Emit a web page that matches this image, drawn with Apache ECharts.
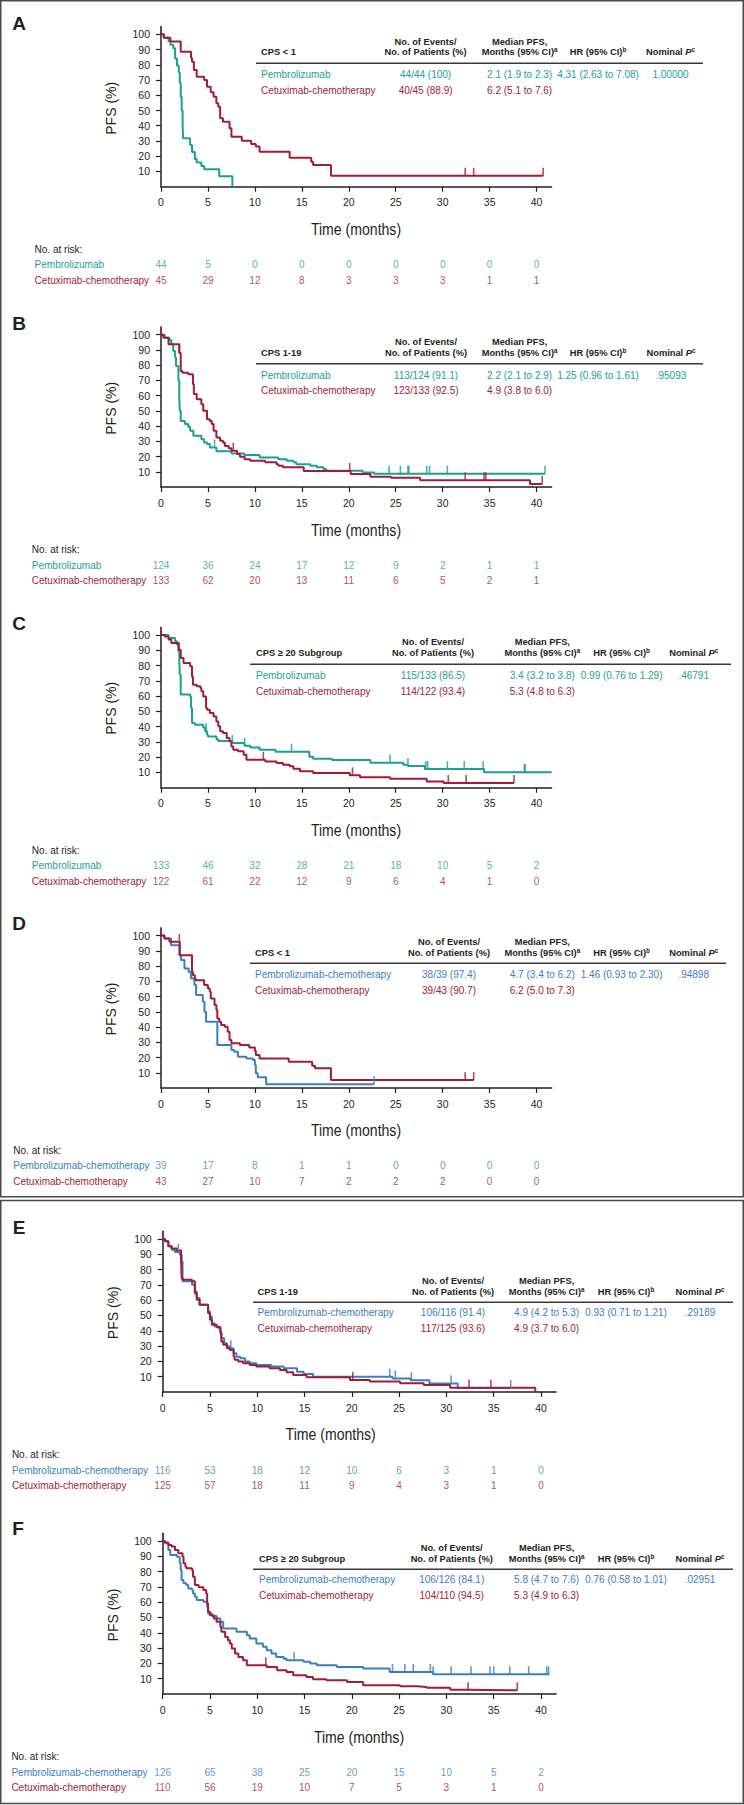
<!DOCTYPE html>
<html><head><meta charset="utf-8">
<script src="https://cdn.jsdelivr.net/npm/echarts@6/dist/echarts.min.js"></script>
<style>html,body{margin:0;padding:0;background:#fff}#c{width:744px;height:1805px}</style>
</head><body><div id="c"></div>
<script>
// ---------------- DATA ----------------
const xTicks = [0, 5, 10, 15, 20, 25, 30, 35, 40];
const yTicks = [10, 20, 30, 40, 50, 60, 70, 80, 90, 100];

// Panel A: CPS < 1, pembrolizumab vs cetuximab-chemotherapy
const A_pembro = [[0,100],[0.3,97.7],[0.8,95.5],[1.0,93.2],[1.3,90.9],[1.5,84.1],[1.7,79.5],[1.9,75],[2.0,68.2],[2.1,59.1],[2.2,50],[2.3,40.9],[2.35,31.8],[3.1,27.3],[3.3,22.7],[3.6,18.2],[3.8,15.9],[4.3,13.6],[4.6,11.4],[6.2,6.8],[7.6,0]];
const A_cetux = [[0,100],[0.3,97.8],[1.0,95.3],[2.1,88.6],[3.2,84.4],[3.3,82],[3.5,76.6],[3.8,72.2],[4.6,70],[4.9,65.6],[5.3,62],[5.6,59],[5.9,54.7],[6.1,52.5],[6.3,44.9],[6.6,42.7],[7.3,38.3],[7.5,32.8],[8.6,30.2],[9.6,28],[10.1,26.3],[10.5,23],[13.7,19],[16.0,16.4],[16.2,14.2],[18.1,7.2],[40.7,7.2]];
const A_pembroCensor = [];
const A_cetuxCensor = [0, 32.4, 33.3, 40.7];
const A_riskPembro = [44, 5, 0, 0, 0, 0, 0, 0, 0];
const A_riskCetux = [45, 29, 12, 8, 3, 3, 3, 1, 1];

// Panel B: CPS 1-19
const B_pembro = [[0,100],[0.4,98],[0.9,96.3],[1.1,93.7],[1.3,89.3],[1.5,85],[1.6,79.5],[1.85,69.7],[1.95,58.7],[2.0,50],[2.1,43.4],[2.55,41.3],[2.9,39.5],[3.1,36.9],[3.45,33.6],[4.3,31.4],[4.6,29.3],[4.9,28.2],[5.2,26],[5.9,23.4],[7.5,22],[8.9,21],[10.5,19.4],[12.5,18.3],[13.4,17.2],[14.1,16.2],[14.4,15],[15.9,14],[16.6,12.9],[17.3,11.8],[17.6,10.7],[21.5,9.6],[22.7,8.7],[40.9,8.7]];
const B_cetux = [[0,100],[0.25,98],[0.8,93.7],[1.95,88],[2.1,76],[2.3,75],[2.9,74],[3.4,67.5],[3.5,61],[3.8,57.6],[4.3,54.4],[4.5,50],[4.9,44.5],[5.2,43.4],[5.4,41.3],[5.6,36.9],[5.9,32.5],[6.3,30.3],[6.6,29.3],[6.8,27],[7.2,25.5],[7.5,23.8],[8.1,21.6],[8.4,19.9],[8.9,18.3],[9.5,17.2],[11.1,16.2],[12.3,15],[12.5,14],[13.0,12.9],[15.2,10.5],[20.2,8.5],[22.3,6.8],[24.5,6],[27.6,4.4],[39.3,2.0],[40.6,2.0]];
const B_pembroCensor = [5.7, 24.3, 25.5, 26.3, 26.4, 28.3, 28.6, 30.5, 40.9];
const B_cetuxCensor = [0, 1.95, 7.7, 20.1, 32.4, 34.4, 34.6, 40.6];
const B_riskPembro = [124, 36, 24, 17, 12, 9, 2, 1, 1];
const B_riskCetux = [133, 62, 20, 13, 11, 6, 5, 2, 1];

// Panel C: CPS >= 20
const C_pembro = [[0,100],[0.8,98],[1.5,96],[1.7,93.7],[1.85,89.3],[1.95,82.8],[2.0,74],[2.1,61],[3.1,59.8],[3.2,52.2],[3.3,42.4],[3.6,41.3],[4.5,39.5],[4.7,36.9],[4.9,34.7],[5.0,33.6],[5.9,31.8],[6.1,30.6],[7.6,29.3],[8.9,27.5],[9.5,26.4],[10.5,24.9],[12.2,23.6],[15.8,20.3],[16.2,19],[18.2,18.1],[22.3,16.4],[25.8,15],[26.3,14.2],[28.1,12.2],[34.4,10.2],[41.6,10.2]];
const C_cetux = [[0,100],[0.4,99],[0.8,97],[1.1,94.8],[1.9,90.4],[2.1,85],[2.4,81.7],[3.1,79.5],[3.3,72.9],[3.4,67.5],[3.8,66.4],[4.2,65.3],[4.3,63.1],[4.5,59.8],[4.8,52.2],[4.9,51.1],[5.2,48.9],[5.6,46.7],[5.9,43.4],[6.1,40.2],[6.3,36.9],[6.6,35.8],[7.0,32.5],[7.3,30.3],[7.5,27],[7.7,24.9],[8.2,23.8],[8.8,21.6],[9.1,18.3],[11.1,17.2],[12.3,16.2],[13.0,15.1],[13.7,14],[14.1,12.4],[14.8,10.7],[16.2,9.6],[20.1,8.1],[21.2,6.8],[24.4,5.9],[28.3,4.1],[30.1,3.1],[37.6,3.1]];
const C_pembroCensor = [4.8, 7.6, 8.9, 13.9, 24.4, 26.3, 28.2, 28.4, 30.5, 32.3, 34.3, 38.7, 38.8];
const C_cetuxCensor = [0, 10.9, 20.4, 30.6, 32.5, 37.6];
const C_riskPembro = [133, 46, 32, 28, 21, 18, 10, 5, 2];
const C_riskCetux = [122, 61, 22, 12, 9, 6, 4, 1, 0];

// Panel D: CPS < 1, pembrolizumab-chemotherapy vs cetuximab-chemotherapy
const D_pembro = [[0,100],[0.36,98],[1.07,93.7],[1.96,87],[2.14,84],[2.5,78.4],[2.95,76],[3.2,71.8],[3.56,67.5],[3.74,61],[4.45,56.6],[4.63,50],[4.8,43.4],[6.0,28.2],[7.5,25],[7.8,23.8],[8.2,20.5],[9.1,19.4],[9.8,18.3],[10.0,15.1],[10.1,9.6],[10.3,7.0],[11.2,2.4],[22.7,2.4]];
const D_cetux = [[0,100],[0.36,98],[0.9,95.9],[2.0,87.1],[3.3,76.2],[3.4,74],[3.6,71.8],[3.7,70.7],[4.6,67.5],[5.0,65.3],[5.2,63.1],[5.3,58.7],[5.7,54.4],[5.9,51.1],[6.0,45.6],[6.2,43.4],[6.4,41.3],[6.8,40.2],[7.1,36.9],[7.3,31.4],[7.5,29.3],[8.4,28.2],[9.4,26.6],[10.0,24.2],[10.1,21.6],[10.5,19.4],[13.6,17.2],[16.1,14.6],[16.4,12.9],[18.1,5.2],[33.3,5.2]];
const D_pembroCensor = [22.7];
const D_cetuxCensor = [0, 1.95, 32.4, 33.3];
const D_riskPembro = [39, 17, 8, 1, 1, 0, 0, 0, 0];
const D_riskCetux = [43, 27, 10, 7, 2, 2, 2, 0, 0];

// Panel E: CPS 1-19
const E_pembro = [[0,100],[0.25,98.5],[0.6,95.2],[0.95,93],[1.3,91.5],[1.8,89.7],[2.0,85.4],[2.1,72.3],[3.1,70.1],[3.4,65.7],[3.6,61.4],[3.9,57],[4.8,52.6],[5.0,49.3],[5.2,45],[5.5,42.8],[5.9,41.7],[6.1,39.5],[6.2,35.2],[6.5,31.9],[6.8,29.7],[7.1,28.6],[7.5,25.3],[7.8,23.1],[8.2,22.1],[8.7,19.9],[9.2,18.8],[9.9,17.7],[11.5,16.6],[12.8,15.5],[14.2,13.3],[14.9,11.8],[15.9,10],[24.3,8.9],[26.2,7.6],[28.2,5.5],[31.2,2.6],[36.8,2.6]];
const E_cetux = [[0,100],[0.25,98.5],[0.6,95.2],[0.95,93.7],[1.5,92.4],[1.95,85.4],[2.0,74.5],[2.1,73.4],[3.1,72.3],[3.4,64.6],[3.6,60.3],[3.9,57],[4.8,51.5],[5.0,47.2],[5.2,43.9],[5.7,42.4],[6.1,38.4],[6.2,33],[6.4,30.8],[6.8,28.6],[7.1,27.5],[7.5,23.1],[7.6,21],[8.0,19.9],[8.5,18.8],[9.2,17.7],[9.9,16.6],[11.3,15.5],[12.4,14.4],[13.1,12.9],[13.8,11.1],[15.2,9.6],[19.8,7.9],[21.9,6.8],[25.1,5.7],[27.6,4.6],[30.4,2.8],[39.4,0]];
const E_pembroCensor = [1.65, 7.2, 24.0, 24.6, 26.3, 30.5, 36.8];
const E_cetuxCensor = [0, 1.95, 20.1, 32.4, 34.7];
const E_riskPembro = [116, 53, 18, 12, 10, 6, 3, 1, 0];
const E_riskCetux = [125, 57, 18, 11, 9, 4, 3, 1, 0];

// Panel F: CPS >= 20
const F_pembro = [[0,100],[0.25,98.5],[0.6,94.1],[0.8,90.8],[1.5,89.7],[1.8,85.4],[1.9,81],[2.0,74.5],[2.2,72.3],[2.5,71.2],[2.7,69],[3.1,67.9],[3.2,65.7],[3.4,63.5],[3.6,61.4],[4.3,60.3],[4.7,57],[4.8,52.6],[5.2,50.9],[5.7,49.3],[6.1,47.2],[6.4,42.8],[7.8,40.6],[8.9,38.4],[9.2,36.2],[9.9,33],[10.6,30.8],[11.0,28.6],[11.5,26.4],[12.0,24.2],[12.8,23.1],[13.1,22.1],[14.9,21],[15.6,19.9],[16.3,18.8],[18.4,17.7],[21.2,16.6],[24.0,14.4],[28.6,12.9],[40.9,12.9]];
const F_cetux = [[0,100],[0.25,99],[0.6,97.4],[0.95,96.3],[1.3,94.1],[1.65,91.9],[2.1,89.7],[2.2,85.4],[2.4,83.2],[2.5,82.1],[3.1,81],[3.2,76.6],[3.4,71.2],[3.8,69.7],[4.3,67.9],[4.6,65.7],[4.7,59.2],[4.8,53.7],[5.0,51.5],[5.4,49.3],[5.7,47.2],[6.1,43.9],[6.2,40.6],[6.6,37.3],[6.9,35.2],[7.1,33],[7.3,29.7],[7.65,26.4],[8.0,24.2],[8.5,22.1],[8.9,18.8],[11.0,17.7],[12.1,15.5],[13.1,14.4],[13.8,12.2],[15.2,11.1],[15.9,9.6],[17.3,9],[19.5,7.9],[21.2,5.7],[25.1,5],[26.9,4.6],[27.9,4.1],[30.4,2.8],[32.1,2.4],[37.5,2.4]];
const F_pembroCensor = [13.9, 24.3, 25.6, 26.5, 28.3, 28.6, 30.5, 32.6, 34.6, 35.0, 36.7, 38.7, 40.6, 40.8];
const F_cetuxCensor = [0, 10.9, 32.3, 37.5];
const F_riskPembro = [126, 65, 38, 25, 20, 15, 10, 5, 2];
const F_riskCetux = [110, 56, 19, 10, 7, 5, 3, 1, 0];

// Table texts
const hdrEvents = ['No. of Events/', 'No. of Patients (%)'];
const hdrMedian = ['Median PFS,', 'Months (95% CI)'];
const hdrHR = 'HR (95% CI)';
const hdrP = 'Nominal ';
const A_title = 'CPS < 1';
const A_rows = [['Pembrolizumab', '44/44 (100)', '2.1 (1.9 to 2.3)', '4.31 (2.63 to 7.08)', '1.00000'], ['Cetuximab-chemotherapy', '40/45 (88.9)', '6.2 (5.1 to 7.6)', '', '']];
const B_title = 'CPS 1-19';
const B_rows = [['Pembrolizumab', '113/124 (91.1)', '2.2 (2.1 to 2.9)', '1.25 (0.96 to 1.61)', '.95093'], ['Cetuximab-chemotherapy', '123/133 (92.5)', '4.9 (3.8 to 6.0)', '', '']];
const C_title = 'CPS \u2265 20 Subgroup';
const C_rows = [['Pembrolizumab', '115/133 (86.5)', '3.4 (3.2 to 3.8)', '0.99 (0.76 to 1.29)', '.46791'], ['Cetuximab-chemotherapy', '114/122 (93.4)', '5.3 (4.8 to 6.3)', '', '']];
const D_title = 'CPS < 1';
const D_rows = [['Pembrolizumab-chemotherapy', '38/39 (97.4)', '4.7 (3.4 to 6.2)', '1.46 (0.93 to 2.30)', '.94898'], ['Cetuximab-chemotherapy', '39/43 (90.7)', '6.2 (5.0 to 7.3)', '', '']];
const E_title = 'CPS 1-19';
const E_rows = [['Pembrolizumab-chemotherapy', '106/116 (91.4)', '4.9 (4.2 to 5.3)', '0.93 (0.71 to 1.21)', '.29189'], ['Cetuximab-chemotherapy', '117/125 (93.6)', '4.9 (3.7 to 6.0)', '', '']];
const F_title = 'CPS \u2265 20 Subgroup';
const F_rows = [['Pembrolizumab-chemotherapy', '106/126 (84.1)', '5.8 (4.7 to 7.6)', '0.76 (0.58 to 1.01)', '.02951'], ['Cetuximab-chemotherapy', '104/110 (94.5)', '5.3 (4.9 to 6.3)', '', '']];

// ---------------- STYLE / LAYOUT ----------------
const TEAL = '#1aa194', RED = '#a01c38', BLUE = '#3a7fc0', INK = '#231f20';
const FONT = "'Liberation Sans', Arial, Helvetica, sans-serif";

const panels = [
  {letter:'A', off:0, c1:TEAL, s1:A_pembro, s2:A_cetux, k1:A_pembroCensor, k2:A_cetuxCensor, r1:A_riskPembro, r2:A_riskCetux, title:A_title, rows:A_rows,
   L:{gx:161, gw:390.6, gt:26.7, gh:160, rk:[264.3,280], rkTitle:249, rkX:34.6, letter:[19,23], pfs:[110.5,108.3], time:[356,229.3],
      rule:[256,703,63.3], h:[41.7,52.3], r:[74.7,90], lx:261, cols:[425.6,519.6,598,670.5]}},
  {letter:'B', off:300, c1:TEAL, s1:B_pembro, s2:B_cetux, k1:B_pembroCensor, k2:B_cetuxCensor, r1:B_riskPembro, r2:B_riskCetux, title:B_title, rows:B_rows,
   L:{gx:161, gw:390.6, gt:27.1, gh:159.9, rk:[265,280.7], rkTitle:249.3, rkX:31.8, letter:[19,23], pfs:[110.5,108.3], time:[356,229.7],
      rule:[256,703,63.7], h:[41.7,52.7], r:[75,90.7], lx:261, cols:[426,519.6,598,671]}},
  {letter:'C', off:600, c1:TEAL, s1:C_pembro, s2:C_cetux, k1:C_pembroCensor, k2:C_cetuxCensor, r1:C_riskPembro, r2:C_riskCetux, title:C_title, rows:C_rows,
   L:{gx:161, gw:390.6, gt:27.4, gh:160.3, rk:[265.3,281], rkTitle:250, rkX:31.8, letter:[19,23], pfs:[110.5,108.3], time:[356,230],
      rule:[250,731,64.3], h:[42.3,53], r:[75.3,91], lx:256, cols:[433,542.3,621.6,693.7]}},
  {letter:'D', off:900, c1:BLUE, s1:D_pembro, s2:D_cetux, k1:D_pembroCensor, k2:D_cetuxCensor, r1:D_riskPembro, r2:D_riskCetux, title:D_title, rows:D_rows,
   L:{gx:161, gw:390.6, gt:27.9, gh:160.1, rk:[265.7,281], rkTitle:250, rkX:13.3, letter:[19,23], pfs:[110.5,109], time:[356,230],
      rule:[250,726,63.3], h:[42.3,53.3], r:[74.3,90], lx:255, cols:[449,542.3,621.6,693.7]}},
  {letter:'E', off:1200, c1:BLUE, s1:E_pembro, s2:E_cetux, k1:E_pembroCensor, k2:E_cetuxCensor, r1:E_riskPembro, r2:E_riskCetux, title:E_title, rows:E_rows,
   L:{gx:162.7, gw:393.4, gt:31.3, gh:160.7, rk:[270,285.7], rkTitle:254.3, rkX:11.9, letter:[19,27], pfs:[113,112.7], time:[330.7,234.3],
      rule:[253,733,102.3], h:[80.7,91.7], r:[112.7,128.3], lx:257.6, cols:[453,546.6,626,700]}},
  {letter:'F', off:1500, c1:BLUE, s1:F_pembro, s2:F_cetux, k1:F_pembroCensor, k2:F_cetuxCensor, r1:F_riskPembro, r2:F_riskCetux, title:F_title, rows:F_rows,
   L:{gx:162.7, gw:393.4, gt:33.3, gh:160.7, rk:[272.3,287.7], rkTitle:256.7, rkX:11.4, letter:[18,28], pfs:[112.5,115], time:[359,236.7],
      rule:[253,733,69.3], h:[47.7,58.7], r:[79.7,95.7], lx:259, cols:[451.7,546.6,626,700]}}
];

function stepVal(curve, t) {
  let v = curve[0][1];
  for (const p of curve) { if (p[0] <= t + 1e-9) v = p[1]; else break; }
  return v;
}

function txt(x, y, text, o) {
  o = o || {};
  const size = o.size || 10, weight = o.weight || 'normal';
  const st = {
    text: text, font: weight + ' ' + size + 'px ' + FONT, fill: o.color || INK,
    align: o.align || 'left', verticalAlign: 'middle',
    textAlign: o.align || 'left', textVerticalAlign: 'middle'
  };
  if (o.rich) st.rich = o.rich;
  const el = {type: 'text', x: x, y: y, silent: true, z: 10, style: st};
  if (o.rotation) el.rotation = o.rotation;
  if (o.scaleX) el.scaleX = o.scaleX;
  return el;
}

const supStyle = {fontSize: 6.3, fontWeight: 'bold', fontFamily: FONT, fill: INK, verticalAlign: 'top', lineHeight: 11};
const grids = [], xAxes = [], yAxes = [], series = [], graphics = [];

// frames
graphics.push({type: 'rect', z: 1, silent: true, shape: {x: 0.75, y: 0.75, width: 742.5, height: 1196}, style: {fill: 'none', stroke: '#4a4a4a', lineWidth: 1.5}});
graphics.push({type: 'rect', z: 1, silent: true, shape: {x: 0.75, y: 1200.5, width: 742.5, height: 603}, style: {fill: 'none', stroke: '#4a4a4a', lineWidth: 1.5}});

panels.forEach((P, k) => {
  const L = P.L, off = P.off, gi = 2 * k;
  grids.push({left: L.gx, top: off + L.gt, width: L.gw, height: L.gh, outerBoundsMode: 'none', containLabel: false});
  grids.push({left: L.gx, top: off + L.rk[0], width: L.gw, height: L.rk[1] - L.rk[0], outerBoundsMode: 'none', containLabel: false});
  xAxes.push({
    gridIndex: gi, type: 'value', min: 0, max: 41.6, interval: 5,
    axisLine: {show: true, onZero: false, lineStyle: {color: INK, width: 1.5}},
    axisTick: {show: true, length: 5, customValues: xTicks, lineStyle: {color: INK, width: 1.2}},
    axisLabel: {color: INK, fontSize: 10.5, fontFamily: FONT, margin: 10, customValues: xTicks,
      formatter: v => (xTicks.indexOf(v) >= 0 ? String(v) : '')},
    splitLine: {show: false}
  });
  xAxes.push({gridIndex: gi + 1, type: 'value', min: 0, max: 41.6, show: false});
  yAxes.push({
    gridIndex: gi, type: 'value', min: 0, max: 105, interval: 10,
    axisLine: {show: true, onZero: false, lineStyle: {color: INK, width: 1.5}},
    axisTick: {show: true, length: 5, customValues: yTicks, lineStyle: {color: INK, width: 1.2}},
    axisLabel: {color: INK, fontSize: 10.5, fontFamily: FONT, margin: 11, customValues: yTicks,
      formatter: v => (yTicks.indexOf(v) >= 0 ? String(v) : '')},
    splitLine: {show: false}
  });
  yAxes.push({gridIndex: gi + 1, type: 'value', min: 0, max: 1, inverse: true, show: false});

  // curves
  series.push({type: 'line', xAxisIndex: gi, yAxisIndex: gi, data: P.s1, step: 'end', symbol: 'none', silent: true,
    lineStyle: {width: 2, color: P.c1}, itemStyle: {color: P.c1}, z: 3});
  series.push({type: 'line', xAxisIndex: gi, yAxisIndex: gi, data: P.s2, step: 'end', symbol: 'none', silent: true,
    lineStyle: {width: 2, color: RED}, itemStyle: {color: RED}, z: 4});
  // censor marks
  series.push({type: 'scatter', xAxisIndex: gi, yAxisIndex: gi, silent: true, z: 5,
    data: P.k1.map(t => [t, stepVal(P.s1, t)]), symbol: 'rect', symbolSize: [1.6, 8], symbolOffset: [0, -4],
    itemStyle: {color: P.c1}});
  series.push({type: 'scatter', xAxisIndex: gi, yAxisIndex: gi, silent: true, z: 5,
    data: P.k2.map(t => [t, stepVal(P.s2, t)]), symbol: 'rect', symbolSize: [1.6, 8], symbolOffset: [0, -4],
    itemStyle: {color: RED}});
  // numbers at risk
  [[P.r1, 0, P.c1], [P.r2, 1, RED]].forEach(([arr, row, col]) => {
    series.push({type: 'scatter', xAxisIndex: gi + 1, yAxisIndex: gi + 1, silent: true,
      data: arr.map((v, i) => [xTicks[i], row, v]), symbolSize: 1, itemStyle: {color: 'rgba(0,0,0,0)'},
      label: {show: true, position: 'inside', formatter: p => String(p.value[2]), color: col, fontSize: 10, fontFamily: FONT}});
  });

  // texts
  graphics.push(txt(L.letter[0], off + L.letter[1], P.letter, {size: 19, weight: 'bold', align: 'center'}));
  graphics.push(txt(L.pfs[0], off + L.pfs[1], 'PFS (%)', {size: 14, align: 'center', rotation: Math.PI / 2}));
  graphics.push(txt(L.time[0], off + L.time[1], 'Time (months)', {size: 16, align: 'center', scaleX: 0.88}));
  graphics.push(txt(L.rkX, off + L.rkTitle, 'No. at risk:', {size: 10}));
  graphics.push(txt(L.rkX, off + L.rk[0], P.rows[0][0], {size: 10, color: P.c1}));
  graphics.push(txt(L.rkX, off + L.rk[1], P.rows[1][0], {size: 10, color: RED}));

  // table header
  const hb = {size: 9.3, weight: 'bold'};
  graphics.push(txt(L.lx, off + L.h[1], P.title, hb));
  graphics.push(txt(L.cols[0], off + L.h[0], hdrEvents[0], Object.assign({align: 'center'}, hb)));
  graphics.push(txt(L.cols[0], off + L.h[1], hdrEvents[1], Object.assign({align: 'center'}, hb)));
  graphics.push(txt(L.cols[1], off + L.h[0], hdrMedian[0], Object.assign({align: 'center'}, hb)));
  graphics.push(txt(L.cols[1], off + L.h[1], hdrMedian[1] + '{s|a}', Object.assign({align: 'center', rich: {s: supStyle}}, hb)));
  graphics.push(txt(L.cols[2], off + L.h[1], hdrHR + '{s|b}', Object.assign({align: 'center', rich: {s: supStyle}}, hb)));
  graphics.push(txt(L.cols[3], off + L.h[1], hdrP + '{i|P}{s|c}', Object.assign({align: 'center', rich: {
    s: supStyle, i: {fontSize: 9.3, fontWeight: 'bold', fontStyle: 'italic', fontFamily: FONT, fill: INK, lineHeight: 11}}}, hb)));
  graphics.push({type: 'line', silent: true, z: 10, shape: {x1: L.rule[0], y1: off + L.rule[2], x2: L.rule[1], y2: off + L.rule[2]},
    style: {stroke: '#3a3a3a', lineWidth: 1.6}});
  // table rows
  P.rows.forEach((row, ri) => {
    const y = off + L.r[ri], col = ri === 0 ? P.c1 : RED;
    graphics.push(txt(L.lx, y, row[0], {size: 10, color: col}));
    for (let c = 1; c <= 4; c++) {
      if (row[c]) graphics.push(txt(L.cols[c - 1], y, row[c], {size: 10, color: col, align: 'center'}));
    }
  });
});

const chart = echarts.init(document.getElementById('c'), null, {renderer: 'svg', width: 744, height: 1805});
chart.setOption({
  animation: false,
  backgroundColor: '#ffffff',
  grid: grids, xAxis: xAxes, yAxis: yAxes, series: series, graphic: graphics
});
</script></body></html>
